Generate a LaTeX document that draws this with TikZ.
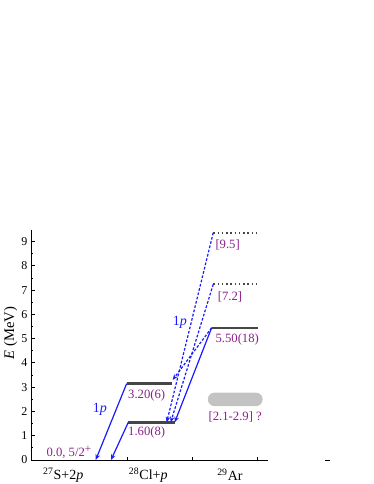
\documentclass[tikz,border=0pt]{standalone}
\usepackage{fontspec}
\setmainfont{Liberation Serif}
\usetikzlibrary{arrows.meta, positioning}

\definecolor{lvlgray}{RGB}{70,70,70}
\definecolor{lblpurple}{RGB}{140,30,140}
\definecolor{trblue}{RGB}{25,25,255}
\definecolor{bandgray}{RGB}{195,195,195}

\begin{document}
\begin{tikzpicture}[
    x=0.75pt, y=18.2pt,
    axis/.style={line width=0.7pt, black},
    level/.style={line width=1.7pt, lvlgray},
    tentative/.style={line width=1.4pt, lvlgray, dash pattern=on 1.1pt off 2.1pt},
    decay/.style={-{Stealth[length=1.5mm, width=1.2mm]}, line width=0.9pt, trblue},
    decaydash/.style={decay, dash pattern=on 2pt off 1.3pt},
    lbl/.style={text=lblpurple, font=\fontsize{9.5}{11}\selectfont, inner sep=1pt},
    ticklbl/.style={font=\fontsize{9}{10}\selectfont, inner sep=1pt},
    nuclide/.style={font=\fontsize{10.5}{12}\selectfont, inner sep=1pt},
    plbl/.style={text=trblue, font=\fontsize{10.5}{12}\selectfont, inner sep=1pt},
    band/.style={fill=bandgray, rounded corners=4.8pt, minimum width=41pt, minimum height=10pt, inner sep=0pt}
]
\useasboundingbox (-31,-0.989) rectangle (343,18.961);

% axes
\draw[axis] (0,9.5) -- (0,0) -- (237,0);
\foreach \e in {0,...,9} {
    \draw[axis] (0,\e) -- ++(4,0);
    \node[ticklbl, left] (t\e) at (-2,\e) {\e};
}
\foreach \e in {0.5,1.5,...,8.5}
    \draw[axis] (0,\e) -- ++(2.5,0);
\foreach \x in {96.7,161.7,226.7}
    \draw[axis] (\x,0) -- ++(0,0.13);
\draw[axis] (294,0) -- (299,0);

\node[ticklbl, rotate=90, font=\fontsize{11}{12}\selectfont] (elbl) at (-20.3,5.23) {\textit{E} (MeV)};

% nuclei
\node[nuclide] (s27) at (32.3,-0.62) {\textsuperscript{27}S+2\textit{p}};
\node[nuclide] (cl28) at (117.3,-0.62) {\textsuperscript{28}Cl+\textit{p}};
\node[nuclide] (ar29) at (199,-0.62) {\textsuperscript{29}Ar};

% levels
\coordinate (clA) at (95.7,3.15);  \coordinate (clAr) at (141.3,3.15);
\coordinate (clB) at (97.3,1.55);  \coordinate (clBr) at (143.7,1.55);
\coordinate (arA) at (180.7,5.45); \coordinate (arAr) at (227.3,5.45);
\coordinate (arB) at (182.3,7.24); \coordinate (arBr) at (226.7,7.24);
\coordinate (arC) at (182.3,9.37); \coordinate (arCr) at (226.7,9.37);

\draw[level] (clA) -- (clAr);
\draw[level] (clB) -- (clBr);
\draw[level] (arA) -- (arAr);
\draw[tentative] (arB) -- (arBr);
\draw[tentative] (arC) -- (arCr);
\node[band] (band) at (204.3,2.5) {};

% decay end points
\coordinate (gsA) at (64.7,0);
\coordinate (gsB) at (80,0);
\coordinate (clBa) at (135.7,1.55);
\coordinate (clBb) at (139.7,1.55);
\coordinate (clAd) at (141.7,3.3);

\draw[decay] (clA) -- (gsA);
\draw[decay] (clB) -- (gsB);
\draw[decay] (arA) -- (clBr);
\draw[decaydash] (arC) -- (clBa);
\draw[decaydash] (arB) -- (clBb);
\draw[decaydash] (arA) -- (clAd);

% labels
\node[lbl, anchor=base west] (gs) at (14,0.14) {0.0, 5/2\raisebox{0.75ex}{\fontsize{8.5}{9}\selectfont +}};
\node[lbl] (eA) at (115.7,2.68) {3.20(6)};
\node[lbl] (eB) at (115.7,1.125) {1.60(8)};
\node[lbl] (eC) at (206.3,4.95) {5.50(18)};
\node[lbl] (eD) at (199,6.71) {[7.2]};
\node[lbl] (eE) at (196.7,8.86) {[9.5]};
\node[lbl, below=3pt of band] (eF) {[2.1-2.9] ?};
\node[plbl] (pA) at (69,2.09) {1\textit{p}};
\node[plbl] (pB) at (149,5.66) {1\textit{p}};

\end{tikzpicture}
\end{document}
